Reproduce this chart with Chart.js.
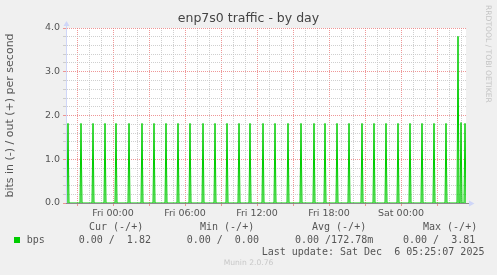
<!DOCTYPE html>
<html>
<head>
<meta charset="UTF-8">
<title>enp7s0 traffic - by day</title>
<script src="https://cdn.jsdelivr.net/npm/chart.js"></script>
<style>
    body { margin: 0; background: #f0f0f0; }
    #wrap { position: relative; width: 497px; height: 275px; overflow: hidden; }
    #chart { position: absolute; left: 0; top: 0; }
    .title { position: absolute; left: 0; top: 10px; width: 497px; text-align: center; font-family: "DejaVu Sans", sans-serif; font-size: 12.5px; line-height: 15px; color: #444; }
    .mono { position: absolute; font-family: "DejaVu Sans Mono", monospace; font-size: 10px; line-height: 12px; color: #555; white-space: pre; margin: 0; }
    .swatch { position: absolute; left: 14px; top: 237px; width: 6px; height: 6px; background: #00cc00; }
    .watermark { position: absolute; left: 484px; top: 5px; writing-mode: vertical-rl; font-family: "DejaVu Sans", sans-serif; font-size: 7.6px; color: #c4c4c4; white-space: nowrap; }
    .footer { position: absolute; left: 0; width: 497px; top: 258px; text-align: center; font-family: "DejaVu Sans", sans-serif; font-size: 7.6px; color: #c8c8c8; }
</style>
</head>
<body>
<div id="wrap">
    <canvas id="chart" width="497" height="275"></canvas>
    <div class="title">enp7s0 traffic - by day</div>

    <!-- legend / stats -->
    <div class="mono" style="left:89px; top:221px;">Cur (-/+)</div>
    <div class="mono" style="left:200px; top:221px;">Min (-/+)</div>
    <div class="mono" style="left:312px; top:221px;">Avg (-/+)</div>
    <div class="mono" style="left:423px; top:221px;">Max (-/+)</div>

    <div class="swatch"></div>
    <div class="mono" style="left:26.7px; top:233.5px;">bps</div>
    <div class="mono" style="left:78.7px; top:233.5px;">0.00 /  1.82</div>
    <div class="mono" style="left:186.7px; top:233.5px;">0.00 /  0.00</div>
    <div class="mono" style="left:295px; top:233.5px;">0.00 /172.78m</div>
    <div class="mono" style="left:403px; top:233.5px;">0.00 /  3.81</div>

    <div class="mono" style="left:261.7px; top:245.7px;">Last update: Sat Dec  6 05:25:07 2025</div>

    <div class="watermark">RRDTOOL / TOBI OETIKER</div>
    <div class="footer">Munin 2.0.76</div>
</div>

<script>
    // window: Thu 20:05 -> Sat 05:25, 5 minute samples, x in minutes from start
    const spanMinutes = 2000;
    const firstHourMinute = 55;   // Thu 21:00

    // out (+) spikes, minutes from window start, and their values (bps)
    const spikeMinutes = [10, 75, 135, 195, 250, 315, 380, 440, 500, 560, 620, 685,
        745, 805, 865, 920, 985, 1045, 1110, 1175, 1240, 1295, 1355, 1415, 1480,
        1540, 1600, 1660, 1720, 1780, 1840, 1900, 1960, 1975, 1995];
    const spikeBps = [1.82, 1.82, 1.82, 1.82, 1.82, 1.82, 1.82, 1.82, 1.82, 1.82, 1.82, 1.82,
        1.82, 1.82, 1.82, 1.82, 1.82, 1.82, 1.82, 1.82, 1.82, 1.82, 1.82, 1.82, 1.82,
        1.82, 1.82, 1.82, 1.82, 1.82, 1.82, 1.82, 3.81, 1.84, 1.82];

    // x tick labels
    const xLabelMinutes = [235, 595, 955, 1315, 1675];
    const xLabels = ['Fri 00:00', 'Fri 06:00', 'Fri 12:00', 'Fri 18:00', 'Sat 00:00'];

    // y grid steps, labelled on whole numbers
    const yTickValues = [0, 0.2, 0.4, 0.6, 0.8, 1.0, 1.2, 1.4, 1.6, 1.8, 2.0,
        2.2, 2.4, 2.6, 2.8, 3.0, 3.2, 3.4, 3.6, 3.8, 4.0];

    const GREEN = '#00cc00';
    const MAJOR = 'rgba(235, 125, 125, 0.8)';
    const MINOR = 'rgba(195, 195, 195, 0.8)';
    const FONT = 'DejaVu Sans';

    // series: zero between the spikes
    const outPoints = [{x: 0, y: 0}];
    spikeMinutes.forEach((m, i) => {
        outPoints.push({x: m - 5, y: 0});
        outPoints.push({x: m, y: spikeBps[i]});
        if (m + 5 <= spanMinutes) outPoints.push({x: m + 5, y: 0});
    });
    if (outPoints[outPoints.length - 1].x < spanMinutes) outPoints.push({x: spanMinutes, y: 0});

    const hourTicks = [];
    for (let m = firstHourMinute; m < spanMinutes; m += 60) hourTicks.push(m);

    const isMajorX = v => (v - firstHourMinute) % 180 === 0;
    const isWholeY = v => Math.abs(v - Math.round(v)) < 1e-6;

    const rrdLook = {
        id: 'rrdLook',
        beforeDraw(chart) {
            const {ctx, chartArea: a} = chart;
            ctx.save();
            ctx.fillStyle = '#f0f0f0';
            ctx.fillRect(0, 0, chart.width, chart.height);
            ctx.fillStyle = '#ffffff';
            ctx.fillRect(a.left, a.top, a.right - a.left, a.bottom - a.top);
            ctx.restore();
        },
        afterDraw(chart) {
            const {ctx, chartArea: a} = chart;
            const x0 = Math.round(a.left) + 0.5;
            const y0 = Math.round(a.bottom) + 0.5;
            ctx.save();
            // axis extensions
            ctx.lineWidth = 1;
            ctx.strokeStyle = '#cfd6f8';
            ctx.beginPath();
            ctx.moveTo(x0, y0);
            ctx.lineTo(x0, a.top - 4);
            ctx.stroke();
            ctx.strokeStyle = '#8c8c8c';
            ctx.beginPath();
            ctx.moveTo(a.left, y0);
            ctx.lineTo(a.right + 3, y0);
            ctx.stroke();
            // arrows
            ctx.fillStyle = '#cfd6f8';
            ctx.beginPath();
            ctx.moveTo(x0, a.top - 7);
            ctx.lineTo(x0 - 3, a.top - 2);
            ctx.lineTo(x0 + 3, a.top - 2);
            ctx.closePath();
            ctx.fill();
            ctx.beginPath();
            ctx.moveTo(a.right + 8.5, y0);
            ctx.lineTo(a.right + 3, y0 - 3);
            ctx.lineTo(a.right + 3, y0 + 3);
            ctx.closePath();
            ctx.fill();
            ctx.restore();
        }
    };

    new Chart(document.getElementById('chart'), {
        type: 'line',
        data: {
            datasets: [{
                label: 'bps',
                data: outPoints,
                borderColor: GREEN,
                backgroundColor: 'rgba(0, 204, 0, 0.35)',
                borderWidth: 1,
                fill: 'origin',
                pointRadius: 0,
                tension: 0
            }]
        },
        options: {
            responsive: false,
            animation: false,
            layout: { padding: { left: 0, right: 31, top: 28, bottom: 0 } },
            plugins: {
                legend: { display: false },
                tooltip: { enabled: false },
                title: { display: false }
            },
            scales: {
                x: {
                    type: 'linear',
                    min: 0,
                    max: spanMinutes,
                    afterBuildTicks: scale => { scale.ticks = hourTicks.map(v => ({value: v})); },
                    afterFit: scale => { scale.height = 72; },
                    ticks: {
                        autoSkip: false,
                        maxRotation: 0,
                        padding: 2,
                        color: '#555',
                        font: { family: FONT, size: 9.5 },
                        callback: v => {
                            const i = xLabelMinutes.indexOf(v);
                            return i >= 0 ? xLabels[i] : '';
                        }
                    },
                    grid: {
                        color: c => isMajorX(c.tick.value) ? MAJOR : MINOR,
                        tickColor: c => isMajorX(c.tick.value) ? MAJOR : 'rgba(0,0,0,0)',
                        tickLength: 3
                    },
                    border: { display: true, color: '#8c8c8c', dash: [1, 1] }
                },
                y: {
                    min: 0,
                    max: 4,
                    afterBuildTicks: scale => { scale.ticks = yTickValues.map(v => ({value: v})); },
                    afterFit: scale => { scale.width = 66; },
                    ticks: {
                        autoSkip: false,
                        padding: 3,
                        color: '#555',
                        font: { family: FONT, size: 9.5 },
                        callback: v => isWholeY(v) ? v.toFixed(1) : ''
                    },
                    grid: {
                        color: c => isWholeY(c.tick.value) ? MAJOR : MINOR,
                        tickColor: c => isWholeY(c.tick.value) ? MAJOR : MINOR,
                        tickLength: 3
                    },
                    border: { display: true, color: '#cfd6f8', dash: [1, 1] },
                    title: {
                        display: true,
                        text: 'bits in (-) / out (+) per second',
                        color: '#555',
                        font: { family: FONT, size: 11 },
                        padding: { top: 4, bottom: 0 }
                    }
                }
            }
        },
        plugins: [rrdLook]
    });
</script>
</body>
</html>
